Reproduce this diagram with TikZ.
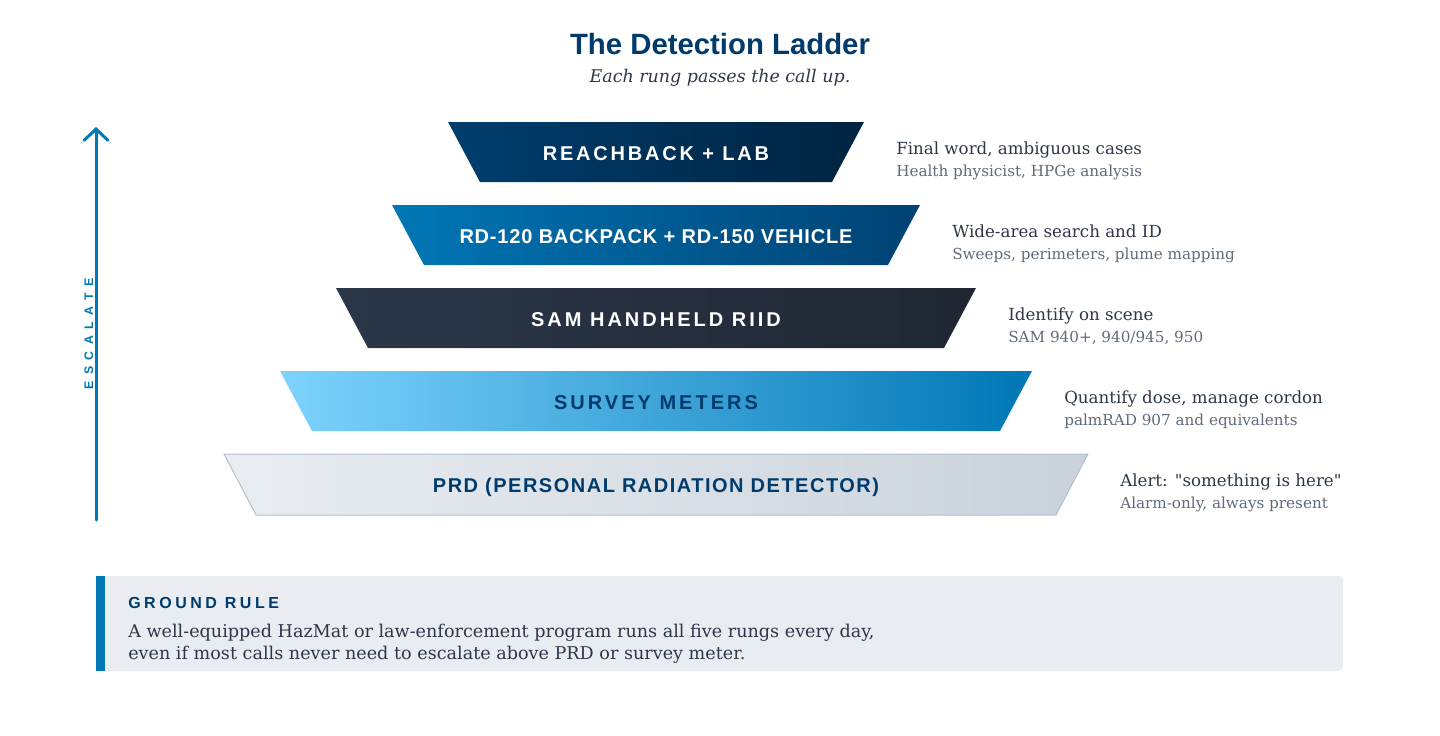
\documentclass[tikz,border=0pt]{standalone}
\usepackage{fontspec}
\setmainfont{DejaVu Serif}
\newfontfamily\headfont{Liberation Sans}
\usetikzlibrary{arrows.meta}

\definecolor{navy}{HTML}{003B6B}
\definecolor{accent}{HTML}{0077B6}
\definecolor{sky}{HTML}{7DD3FC}
\definecolor{ink}{HTML}{2D3748}
\definecolor{muted}{HTML}{5F6B7A}
\definecolor{boxgray}{HTML}{E9EDF1}
\definecolor{prdedge}{HTML}{B4C0CD}

\tikzset{
  rungtext/.style={anchor=base, inner sep=0pt, font=\headfont\bfseries\fontsize{15}{18}\selectfont},
  note/.style={anchor=base west, inner sep=0pt, text=ink, font=\fontsize{12.5}{15}\selectfont},
  subnote/.style={anchor=base west, inner sep=0pt, text=muted, font=\fontsize{11.4}{14}\selectfont},
}

\begin{document}
\begin{tikzpicture}[x=0.75pt, y=-0.75pt]
    \useasboundingbox (0,0) rectangle (1440,736);

    % Titel
    \node[anchor=base, inner sep=0pt, text=navy, font=\headfont\bfseries\fontsize{22}{26}\selectfont] (title) at (720,54) {The Detection Ladder};
    \node[anchor=base, inner sep=0pt, text=ink, font=\itshape\fontsize{13.1}{16}\selectfont] (subtitle) at (720,82) {Each rung passes the call up.};

    % Sprosse 5: Reachback
    \shade[left color=navy!95!accent, right color=navy!60!black] (448,122) -- (864,122) -- (832,182) -- (480,182) -- cycle;
    \node[rungtext, text=white] (reach) at (656,160) {\addfontfeature{LetterSpace=14}REACHBACK + LAB};
    \node[note] (reachnote) at (896,154) {Final word, ambiguous cases};
    \node[subnote] (reachsub) at (896,176.5) {Health physicist, HPGe analysis};

    % Sprosse 4: Backpack + Fahrzeug
    \shade[left color=accent, right color=navy!90!accent] (392,205) -- (920,205) -- (888,265) -- (424,265) -- cycle;
    \node[rungtext, text=white] (rdpack) at (656,243) {\addfontfeature{LetterSpace=4}RD-120 BACKPACK + RD-150 VEHICLE};
    \node[note] (rdnote) at (952,237) {Wide-area search and ID};
    \node[subnote] (rdsub) at (952,259.5) {Sweeps, perimeters, plume mapping};

    % Sprosse 3: SAM
    \shade[left color=ink!95!navy, right color=ink!70!black] (336,288) -- (976,288) -- (944,348) -- (368,348) -- cycle;
    \node[rungtext, text=white] (sam) at (656,326) {\addfontfeature{LetterSpace=15}SAM HANDHELD RIID};
    \node[note] (samnote) at (1008,320) {Identify on scene};
    \node[subnote] (samsub) at (1008,342.5) {SAM 940+, 940/945, 950};

    % Sprosse 2: Survey
    \shade[left color=sky, right color=accent] (280,371) -- (1032,371) -- (1000,431) -- (312,431) -- cycle;
    \node[rungtext, text=navy] (survey) at (656,409) {\addfontfeature{LetterSpace=15}SURVEY METERS};
    \node[note] (surveynote) at (1064,403) {Quantify dose, manage cordon};
    \node[subnote] (surveysub) at (1064,425.5) {palmRAD 907 and equivalents};

    % Sprosse 1: PRD
    \shade[left color=boxgray, right color=prdedge!60!boxgray] (224,454) -- (1088,454) -- (1056,515) -- (256,515) -- cycle;
    \draw[prdedge, line width=0.75pt] (224,454) -- (1088,454) -- (1056,515) -- (256,515) -- cycle;
    \node[rungtext, text=navy] (prd) at (656,492) {\addfontfeature{LetterSpace=7.5}PRD (PERSONAL RADIATION DETECTOR)};
    \node[note] (prdnote) at (1120,486) {Alert: \textquotedbl something is here\textquotedbl};
    \node[subnote] (prdsub) at (1120,508.5) {Alarm-only, always present};

    % Pfeil
    \coordinate (escbot) at (96,520);
    \coordinate (esctop) at (96,127);
    \draw[accent, line width=2.25pt, line cap=round, -{Straight Barb[length=8.5pt, width=18pt, line cap=round]}] (escbot) -- (esctop);
    \node[rotate=90, anchor=base, inner sep=0pt, text=accent, font=\headfont\bfseries\fontsize{9.3}{11}\selectfont] (escalate) at (93,334) {\addfontfeature{LetterSpace=52}ESCALATE};

    % Grundregel
    \fill[boxgray, rounded corners=3pt] (96,576) rectangle (1343,671);
    \fill[accent] (96,576) rectangle (105,671);
    \node[anchor=base west, inner sep=0pt, text=navy, font=\headfont\bfseries\fontsize{12}{14}\selectfont] (rulehead) at (128,608) {\addfontfeature{LetterSpace=22}GROUND RULE};
    \node[anchor=base west, inner sep=0pt, text=ink, font=\fontsize{13.2}{16}\selectfont] (ruleone) at (128,637.5) {A well-equipped HazMat or law-enforcement program runs all five rungs every day,};
    \node[anchor=base west, inner sep=0pt, text=ink, font=\fontsize{13.2}{16}\selectfont] (ruletwo) at (128,659.5) {even if most calls never need to escalate above PRD or survey meter.};
\end{tikzpicture}
\end{document}
